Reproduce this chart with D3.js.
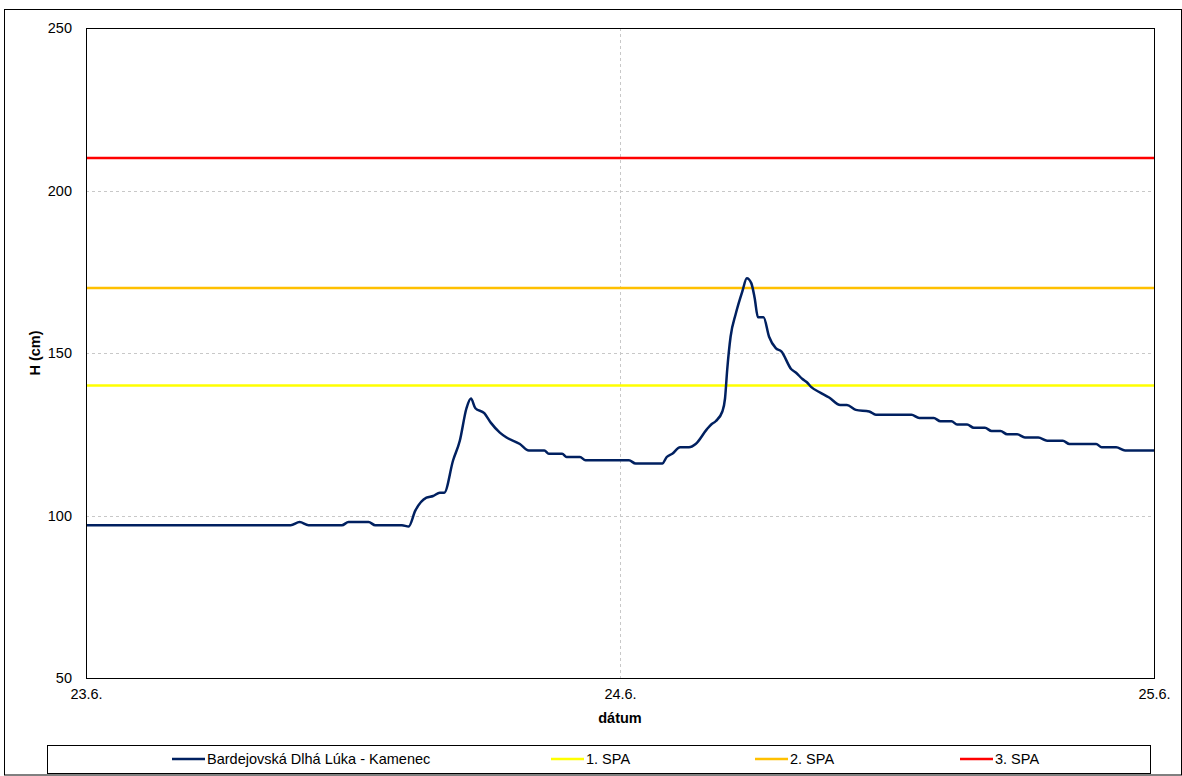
<!DOCTYPE html>
<html>
<head>
<meta charset="utf-8">
<script src="https://cdn.jsdelivr.net/npm/d3@7"></script>
<style>
  html, body { margin: 0; padding: 0; background: #fff; }
  svg { display: block; font-family: "Liberation Sans", Arial, sans-serif; }
</style>
</head>
<body>
<svg id="chart" width="1182" height="776"></svg>
<script>
// Water level, hours since 23.6. 00:00
const hours = [0, 9.2, 9.6, 10.0, 11.5, 11.8, 12.7, 13.0, 14.2, 14.5, 14.8, 15.3, 15.6, 15.9, 16.1,
  16.5, 16.8, 17.1, 17.3, 17.5, 17.9, 18.2, 18.6, 18.9, 19.5, 19.9, 20.6, 20.8, 21.4, 21.6, 22.2,
  22.45, 24.4, 24.7, 25.9, 26.1, 26.35, 26.7, 27.1, 27.4, 27.9, 28.1, 28.3, 28.6, 28.72, 28.82,
  28.97, 29.2, 29.5, 29.7, 29.9, 30.05, 30.2, 30.45, 30.7, 31.0, 31.25, 31.7, 31.9, 32.2, 32.4,
  32.6, 32.95, 33.4, 33.9, 34.2, 34.6, 35.2, 35.5, 37.1, 37.45, 38.1, 38.4, 38.9, 39.15, 39.6,
  39.9, 40.4, 40.7, 41.1, 41.4, 41.85, 42.2, 42.8, 43.2, 43.9, 44.2, 45.4, 45.65, 46.3, 46.7, 48];
const level = [97, 97, 98, 97, 97, 98, 98, 97, 97, 96.6, 101.5, 105.5, 106, 107, 107,
  117, 123, 133, 136, 133, 131.5, 128.5, 125.5, 124, 122, 120, 120, 119, 119, 118, 118,
  117, 117, 116, 116, 118, 119, 121, 121, 122, 126.5, 128, 129, 132, 136, 145,
  155, 162, 169, 173, 171.5, 167, 161, 161, 155, 151.5, 150.5, 145, 144, 142, 141,
  139.5, 138, 136.3, 134, 134, 132.5, 132, 131, 131, 130, 130, 129, 129, 128, 128,
  127, 127, 126, 126, 125, 125, 124, 124, 123, 123, 122, 122, 121, 121, 120, 120];

// Flood warning levels (stupne povodňovej aktivity)
const spaNames = ["1. SPA", "2. SPA", "3. SPA"];
const spaLevels = [140, 170, 210];
const spaColors = ["#FFFF00", "#FFC000", "#FF0000"];

const seriesName = "Bardejovská Dlhá Lúka - Kamenec";
const seriesColor = "#002060";

const xTickHours = [0, 24, 48];
const xTickLabels = ["23.6.", "24.6.", "25.6."];
const yTicks = [50, 100, 150, 200, 250];

const svg = d3.select("#chart");
const W = 1182, H = 776;
const plot = { left: 86, right: 1154, top: 28, bottom: 678 };
const FS = 14.5;

const x = d3.scaleLinear().domain([0, 48]).range([plot.left, plot.right]);
const y = d3.scaleLinear().domain([50, 250]).range([plot.bottom, plot.top]);

// outer frame
svg.append("rect").attr("x", 4.5).attr("y", 9.5).attr("width", W - 5).attr("height", H - 10.5)
  .attr("fill", "#fff").attr("stroke", "#000").attr("stroke-width", 1);

// gridlines
const grid = svg.append("g").attr("stroke", "#c8c8c8").attr("stroke-width", 1)
  .attr("stroke-dasharray", "3,3");
yTicks.filter(v => v > 50 && v < 250).forEach(v => {
  grid.append("line").attr("x1", plot.left).attr("x2", plot.right)
    .attr("y1", Math.round(y(v)) + 0.5).attr("y2", Math.round(y(v)) + 0.5);
});
xTickHours.filter(h => h > 0 && h < 48).forEach(h => {
  grid.append("line").attr("y1", plot.top).attr("y2", plot.bottom)
    .attr("x1", Math.round(x(h)) + 0.5).attr("x2", Math.round(x(h)) + 0.5);
});

// axes (labels only)
const yAxis = d3.axisLeft(y).tickValues(yTicks).tickSize(0).tickPadding(14);
const gy = svg.append("g").attr("transform", `translate(${plot.left},0)`).call(yAxis);
gy.select(".domain").remove();
gy.selectAll("text").attr("font-size", FS).attr("fill", "#000")
  .attr("font-family", "Liberation Sans, Arial, sans-serif");

const xAxis = d3.axisBottom(x).tickValues(xTickHours).tickSize(0).tickPadding(11)
  .tickFormat((d, i) => xTickLabels[i]);
const gx = svg.append("g").attr("transform", `translate(0,${plot.bottom})`).call(xAxis);
gx.select(".domain").remove();
gx.selectAll("text").attr("font-size", FS).attr("fill", "#000")
  .attr("font-family", "Liberation Sans, Arial, sans-serif");

// axis titles
svg.append("text").attr("x", (plot.left + plot.right) / 2).attr("y", 723)
  .attr("text-anchor", "middle").attr("font-size", FS).attr("font-weight", "bold").text("dátum");
svg.append("text").attr("transform", `translate(40,${(plot.top + plot.bottom) / 2}) rotate(-90)`)
  .attr("text-anchor", "middle").attr("font-size", FS).attr("font-weight", "bold").text("H (cm)");

// clip to plot area
svg.append("clipPath").attr("id", "clip").append("rect")
  .attr("x", plot.left).attr("y", plot.top)
  .attr("width", plot.right - plot.left).attr("height", plot.bottom - plot.top);
const gPlot = svg.append("g").attr("clip-path", "url(#clip)");

// warning levels
spaLevels.forEach((v, i) => {
  gPlot.append("line").attr("x1", plot.left).attr("x2", plot.right)
    .attr("y1", y(v)).attr("y2", y(v))
    .attr("stroke", spaColors[i]).attr("stroke-width", 2.5);
});

// water level series
const pts = hours.map((h, i) => [h, level[i]]);
const line = d3.line().x(d => x(d[0])).y(d => y(d[1])).curve(d3.curveMonotoneX);
gPlot.append("path").datum(pts).attr("d", line)
  .attr("fill", "none").attr("stroke", seriesColor).attr("stroke-width", 2.5)
  .attr("stroke-linejoin", "round");

// plot frame
svg.append("rect").attr("x", plot.left + 0.5).attr("y", plot.top + 0.5)
  .attr("width", plot.right - plot.left).attr("height", plot.bottom - plot.top)
  .attr("fill", "none").attr("stroke", "#000").attr("stroke-width", 1);

// legend
const lg = { x: 47.5, y: 745.5, w: 1103, h: 28 };
svg.append("rect").attr("x", lg.x).attr("y", lg.y).attr("width", lg.w).attr("height", lg.h)
  .attr("fill", "#fff").attr("stroke", "#000").attr("stroke-width", 1);
const legendItems = [{ name: seriesName, color: seriesColor, x: 172 }]
  .concat(spaNames.map((n, i) => ({ name: n, color: spaColors[i], x: [551, 755, 960][i] })));
const ly = 759;
legendItems.forEach(it => {
  svg.append("line").attr("x1", it.x).attr("x2", it.x + 33).attr("y1", ly).attr("y2", ly)
    .attr("stroke", it.color).attr("stroke-width", 2.5);
  svg.append("text").attr("x", it.x + 35).attr("y", ly).attr("dy", "0.35em")
    .attr("font-size", FS).text(it.name);
});
</script>
</body>
</html>
